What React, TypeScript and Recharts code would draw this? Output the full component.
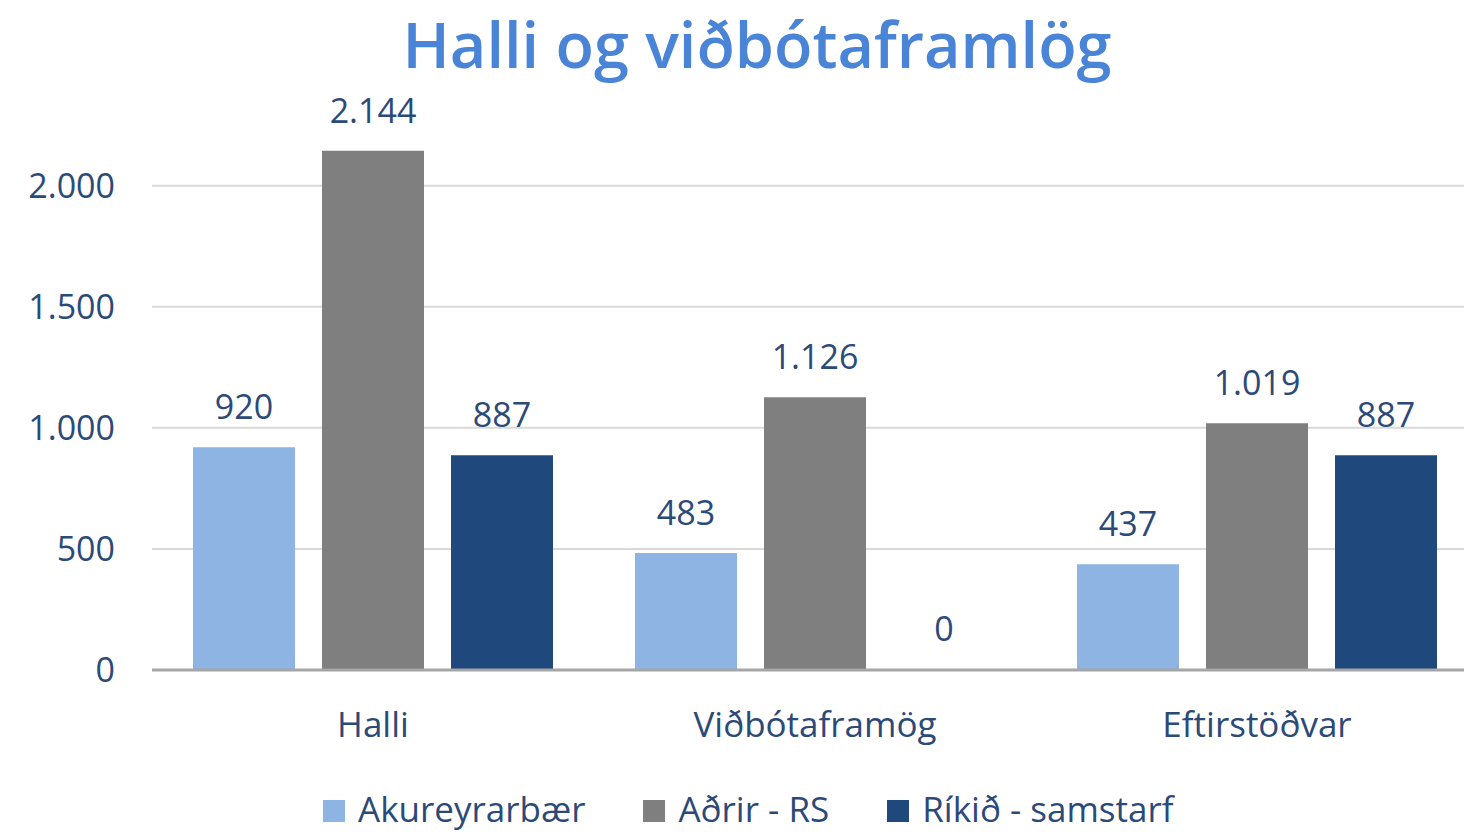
import { Bar, BarChart, CartesianGrid, LabelList, Legend, XAxis, YAxis } from "recharts";

const categories = ["Halli", "Viðbótaframög", "Eftirstöðvar"];
const akureyrarbaer = [920, 483, 437];
const adrirRs = [2144, 1126, 1019];
const rikidSamstarf = [887, 0, 887];
const yTicks = [0, 500, 1000, 1500, 2000];

const seriesNames = ["Akureyrarbær", "Aðrir - RS", "Ríkið - samstarf"];
const seriesColors = ["#8EB4E3", "#7F7F7F", "#1F497D"];

const textColor = "#2C4A78";
const font = "'Open Sans', sans-serif";

const data = categories.map((name, i) => ({
  name,
  a: akureyrarbaer[i],
  b: adrirRs[i],
  c: rikidSamstarf[i],
}));

const formatIs = (v: number) =>
  String(v).replace(/\B(?=(\d{3})+(?!\d))/g, ".");

function LegendContent() {
  return (
    <div
      style={{
        display: "flex",
        alignItems: "center",
        marginLeft: 323,
        height: 64,
        paddingTop: 14,
        boxSizing: "border-box",
        fontFamily: font,
        fontSize: 35,
        lineHeight: "44px",
        color: textColor,
        whiteSpace: "nowrap",
      }}
    >
      {seriesNames.map((name, i) => (
        <div key={name} style={{ display: "flex", alignItems: "center", marginRight: 58 }}>
          <span
            style={{
              display: "inline-block",
              width: 22,
              height: 22,
              background: seriesColors[i],
              marginRight: 13,
              marginTop: 4,
            }}
          />
          {name}
        </div>
      ))}
    </div>
  );
}

// label drawn for every bar, zero-height bars included
function BarValueLabel(props: any) {
  const { x, y, width, height, value } = props;
  const top = Math.min(Number(y), Number(y) + Number(height));
  return (
    <text
      x={Number(x) + Number(width) / 2}
      y={top - 28}
      textAnchor="middle"
      fill={textColor}
      fontFamily={font}
      fontSize={34}
    >
      {formatIs(Number(value))}
    </text>
  );
}

export default function App() {
  return (
    <div
      style={{
        position: "fixed",
        left: 0,
        top: 0,
        width: 1464,
        height: 834,
        overflow: "hidden",
        background: "#fff",
      }}
    >
      <div
        style={{
          position: "absolute",
          left: 0,
          top: 3,
          width: 1464,
          paddingLeft: 50,
          boxSizing: "border-box",
          textAlign: "center",
          fontFamily: font,
          fontWeight: 600,
          fontSize: 63,
          lineHeight: "82px",
          color: "#4A84D6",
          zIndex: 1,
        }}
      >
        Halli og viðbótaframlög
      </div>
      <BarChart
        width={1478}
        height={834}
        data={data}
        margin={{ top: 113, right: 0, bottom: 0, left: 0 }}
        barSize={102}
        barGap={27}
      >
        <CartesianGrid
          vertical={false}
          horizontalValues={yTicks}
          stroke="#D9D9D9"
          strokeWidth={2}
        />
        <XAxis
          dataKey="name"
          height={100}
          axisLine={{ stroke: "#A6A6A6", strokeWidth: 3 }}
          tickLine={false}
          tickMargin={36}
          tick={{ fill: textColor, fontFamily: font, fontSize: 35 }}
        />
        <YAxis
          width={152}
          domain={[0, 2300]}
          ticks={yTicks}
          axisLine={false}
          tickLine={false}
          tickMargin={31}
          tickFormatter={formatIs}
          tick={{ fill: textColor, fontFamily: font, fontSize: 34 }}
        />
        <Legend verticalAlign="bottom" height={64} content={<LegendContent />} />
        {["a", "b", "c"].map((key, i) => (
          <Bar
            key={key}
            dataKey={key}
            name={seriesNames[i]}
            fill={seriesColors[i]}
            minPointSize={(value: number) => (value === 0 ? 1 : 0)}
            isAnimationActive={false}
          >
            <LabelList dataKey={key} content={<BarValueLabel />} />
          </Bar>
        ))}
      </BarChart>
    </div>
  );
}
